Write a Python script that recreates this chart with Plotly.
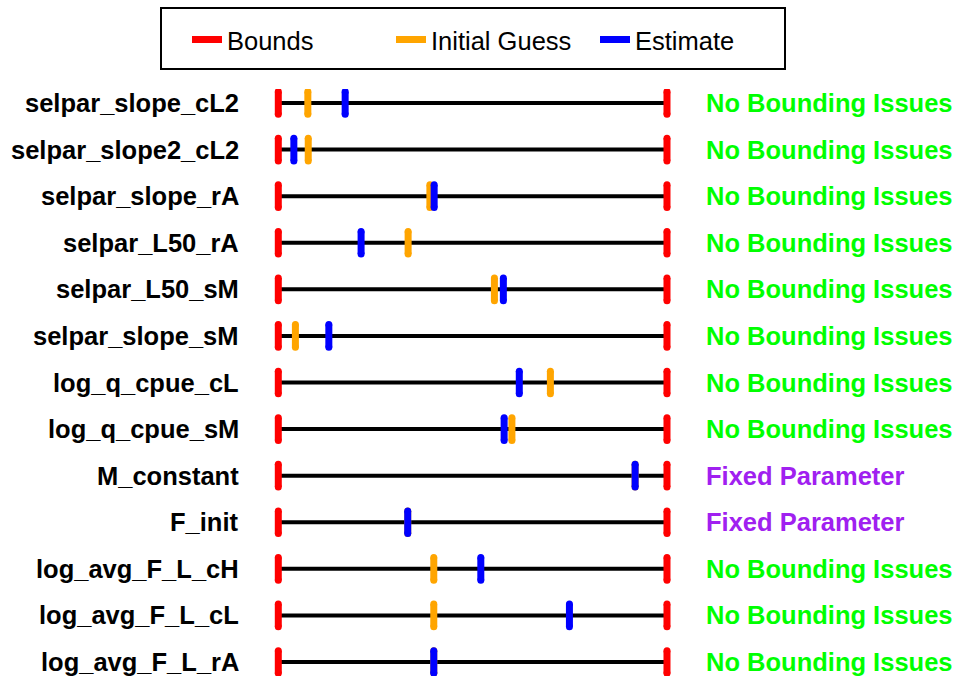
import plotly.graph_objects as go

# ---- data (positions normalised to each parameter's bounds: 0 = lower, 1 = upper)
parameters = [
    "selpar_slope_cL2", "selpar_slope2_cL2", "selpar_slope_rA", "selpar_L50_rA",
    "selpar_L50_sM", "selpar_slope_sM", "log_q_cpue_cL", "log_q_cpue_sM",
    "M_constant", "F_init", "log_avg_F_L_cH", "log_avg_F_L_cL", "log_avg_F_L_rA",
]
lower_bound = [0.0] * 13
upper_bound = [1.0] * 13
initial_guess = [0.076, 0.077, 0.390, 0.334, 0.556, 0.044, 0.700, 0.601,
                 0.918, 0.333, 0.400, 0.400, 0.400]
estimate = [0.172, 0.040, 0.401, 0.213, 0.579, 0.130, 0.620, 0.581,
            0.918, 0.333, 0.521, 0.749, 0.400]
status = ["No Bounding Issues"] * 8 + ["Fixed Parameter"] * 2 + ["No Bounding Issues"] * 3

status_colors = {"No Bounding Issues": "#00FF00", "Fixed Parameter": "#A020F0"}
FONT = "Liberation Sans, Arial, sans-serif"
HALF = 0.243  # half-height of the tick marks (in row units)


def tick_xy(values):
    xs, ys = [], []
    for i, v in enumerate(values):
        xs += [v, v, None]
        ys += [i - HALF, i + HALF, None]
    return xs, ys


fig = go.Figure()

# black range lines
lx, ly = [], []
for i, (lo, hi) in enumerate(zip(lower_bound, upper_bound)):
    lx += [lo, hi, None]
    ly += [i, i, None]
fig.add_trace(go.Scatter(x=lx, y=ly, mode="lines", line=dict(color="black", width=4),
                         showlegend=False, hoverinfo="skip"))

# bounds (both ends)
bx1, by1 = tick_xy(lower_bound)
bx2, by2 = tick_xy(upper_bound)
series = [
    ("Bounds", bx1 + bx2, by1 + by2, "#FF0000"),
    ("Initial Guess", *tick_xy(initial_guess), "#FFA500"),
    ("Estimate", *tick_xy(estimate), "#0000FF"),
]
for name, xs, ys, col in series:
    fig.add_trace(go.Scatter(
        x=xs, y=ys, mode="lines+markers", name=name,
        line=dict(color=col, width=7),
        marker=dict(color=col, size=7, line=dict(width=0)),
        hoverinfo="skip"))

# labels
for i, p in enumerate(parameters):
    fig.add_annotation(x=-0.096, y=i, text=p, showarrow=False, xanchor="right",
                       yanchor="middle", font=dict(family=FONT, size=25.5, color="black",
                                                   weight="bold"))
    fig.add_annotation(x=1.096, y=i, text=status[i], showarrow=False, xanchor="left",
                       yanchor="middle", font=dict(family=FONT, size=25.5,
                                                   color=status_colors[status[i]],
                                                   weight="bold"))

# legend frame
top_px, plot_h = 89, 587
def py(px):
    return 1 + (top_px - px) / plot_h

fig.add_shape(type="rect", xref="paper", yref="paper",
              x0=161 / 958, x1=785 / 958, y0=py(69), y1=py(8),
              line=dict(color="black", width=2), fillcolor="rgba(0,0,0,0)")

fig.update_layout(
    width=958, height=677,
    margin=dict(l=0, r=0, t=top_px, b=677 - top_px - plot_h, pad=0),
    plot_bgcolor="white", paper_bgcolor="white",
    xaxis=dict(range=[-0.716, 1.7487], visible=False, fixedrange=True),
    yaxis=dict(range=[12.3, -0.3], visible=False, fixedrange=True),
    showlegend=True,
    legend=dict(orientation="h", x=187 / 958, xanchor="left", y=py(40), yanchor="middle",
                entrywidth=159, entrywidthmode="pixels",
                font=dict(family=FONT, size=25.5, color="black"),
                bgcolor="rgba(0,0,0,0)", borderwidth=0),
)

fig.write_html("out.html", config={"displayModeBar": False},
               post_script="document.body.style.margin='0';")
